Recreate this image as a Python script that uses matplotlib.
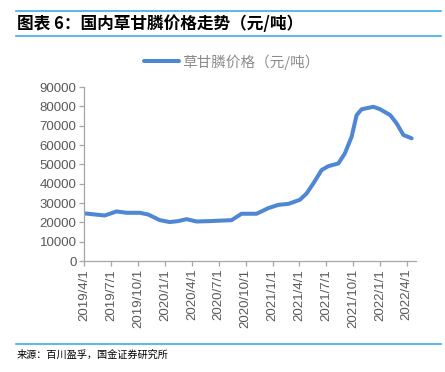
import matplotlib
matplotlib.use('Agg')
import matplotlib.pyplot as plt
import matplotlib.dates as mdates
import numpy as np
from datetime import datetime

plt.rcParams['font.family'] = ['Noto Sans CJK SC', 'DejaVu Sans']

# price readings (yuan / ton)
dates = ['2019-04-01', '2019-06-10', '2019-07-20', '2019-08-23', '2019-10-07',
         '2019-11-05', '2019-12-14', '2020-01-17', '2020-02-15', '2020-03-14',
         '2020-04-17', '2020-06-01', '2020-07-17', '2020-08-14', '2020-09-17',
         '2020-11-07', '2020-12-17', '2021-01-20', '2021-02-23', '2021-04-03',
         '2021-04-26', '2021-05-19', '2021-06-16', '2021-07-09', '2021-08-12',
         '2021-09-03', '2021-09-26', '2021-10-13', '2021-10-30', '2021-12-09',
         '2022-01-01', '2022-02-04', '2022-02-26', '2022-03-21', '2022-04-18']
prices = [24700, 23600, 25700, 25000, 25000,
          24100, 21200, 20200, 20700, 21700,
          20500, 20700, 21000, 21200, 24500,
          24500, 27400, 29100, 29600, 31700,
          35000, 40200, 47100, 49100, 50500,
          55700, 64300, 75500, 78500, 79800,
          78500, 75500, 71200, 65200, 63500]
tick_dates = ['2019-04-01', '2019-07-01', '2019-10-01', '2020-01-01', '2020-04-01',
              '2020-07-01', '2020-10-01', '2021-01-01', '2021-04-01', '2021-07-01',
              '2021-10-01', '2022-01-01', '2022-04-01']
tick_labels = ['2019/4/1', '2019/7/1', '2019/10/1', '2020/1/1', '2020/4/1',
               '2020/7/1', '2020/10/1', '2021/1/1', '2021/4/1', '2021/7/1',
               '2021/10/1', '2022/1/1', '2022/4/1']
yticks = list(range(0, 90001, 10000))

x = [datetime.strptime(d, '%Y-%m-%d') for d in dates]
xt = [datetime.strptime(d, '%Y-%m-%d') for d in tick_dates]

fig = plt.figure(figsize=(4.45, 3.72), dpi=100)
ax = fig.add_axes([0.189, 0.298, 0.746, 0.468])

line_color = '#5087d4'
ax.plot(x, prices, color=line_color, lw=2.9, solid_joinstyle='round',
        solid_capstyle='round', label='草甘膦价格（元/吨）')

ax.set_ylim(0, 90000)
ax.set_yticks(yticks)
ax.set_xlim(datetime(2019, 4, 1), datetime(2022, 5, 3))
ax.set_xticks(xt)
ax.set_xticklabels(tick_labels, rotation=90)

for s in ['top', 'right']:
    ax.spines[s].set_visible(False)
for s in ['left', 'bottom']:
    ax.spines[s].set_color('#a6a6a6')
    ax.spines[s].set_linewidth(0.9)
ax.tick_params(axis='both', colors='#a6a6a6', labelcolor='#595959', length=3.5,
               width=0.9, labelsize=9.5, pad=2)
for lab in ax.get_xticklabels() + ax.get_yticklabels():
    lab.set_family(['Liberation Sans', 'DejaVu Sans'])

leg = ax.legend(loc='upper center', bbox_to_anchor=(0.445, 1.265), frameon=False,
                fontsize=10.5, handlelength=2.4, handletextpad=0.2)
for t in leg.get_texts():
    t.set_color('#8c8c8c')

# header and footer
blue = '#3daee9'
fig.add_artist(plt.Line2D([0.036, 0.99], [1 - 11 / 372, 1 - 11 / 372], color=blue, lw=1.2))
fig.add_artist(plt.Line2D([0.036, 0.99], [1 - 36 / 372, 1 - 36 / 372], color=blue, lw=1.2))
fig.add_artist(plt.Line2D([0.036, 0.99], [1 - 344 / 372, 1 - 344 / 372], color=blue, lw=1.2))
fig.text(0.038, 1 - 23.5 / 372, '图表 6：国内草甘膦价格走势（元/吨）', fontsize=12,
         fontweight='bold', va='center', ha='left', color='black')
fig.text(0.038, 1 - 355 / 372, '来源：百川盈孚，国金证券研究所', fontsize=7.3,
         va='center', ha='left', color='black')

fig.savefig('out.png', dpi=100)
